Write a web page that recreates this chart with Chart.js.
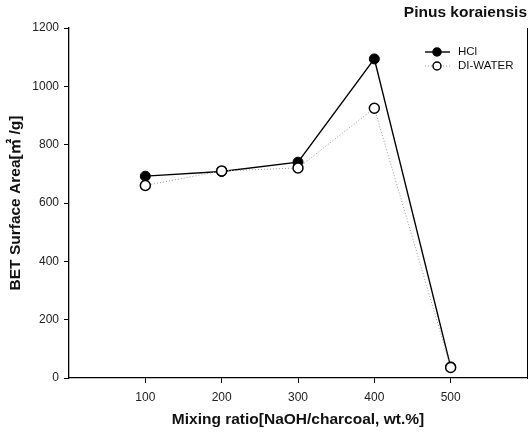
<!DOCTYPE html>
<html>
<head>
<meta charset="utf-8">
<script src="https://cdn.jsdelivr.net/npm/chart.js@4/dist/chart.umd.min.js"></script>
<style>
  html, body { margin: 0; padding: 0; background: #fff; }
  #wrap { width: 528px; height: 437px; }
</style>
</head>
<body>
<div id="wrap"><canvas id="chart" width="528" height="437"></canvas></div>
<script>
// データ
const mixingRatio = [100, 200, 300, 400, 500];
const hclArea = [692, 708, 740, 1094, 38];
const diWaterArea = [660, 710, 720, 925, 36];
const yTicks = [0, 200, 400, 600, 800, 1000, 1200];

const FONT = '"Liberation Sans", Arial, "Noto Sans CJK KR", sans-serif';

// 右上のタイトルと凡例を描く
const titleLegend = {
    id: 'titleLegend',
    afterDraw(chart) {
        const ctx = chart.ctx;
        const area = chart.chartArea;
        ctx.save();
        ctx.fillStyle = '#111';
        ctx.font = 'bold 15.5px ' + FONT;
        ctx.textAlign = 'right';
        ctx.textBaseline = 'middle';
        ctx.fillText('Pinus koraiensis', area.right, 13);

        const rows = [
            { ds: chart.data.datasets[0], y: 52 },
            { ds: chart.data.datasets[1], y: 66 }
        ];
        rows.forEach(r => {
            ctx.beginPath();
            ctx.setLineDash(r.ds.borderDash || []);
            ctx.strokeStyle = r.ds.borderColor;
            ctx.lineWidth = r.ds.borderWidth;
            ctx.moveTo(425, r.y);
            ctx.lineTo(450, r.y);
            ctx.stroke();
            ctx.setLineDash([]);
            ctx.beginPath();
            ctx.arc(437, r.y, 4, 0, Math.PI * 2);
            ctx.fillStyle = r.ds.pointBackgroundColor;
            ctx.fill();
            ctx.lineWidth = 1.5;
            ctx.strokeStyle = '#000';
            ctx.stroke();
            ctx.fillStyle = '#111';
            ctx.font = '11.5px ' + FONT;
            ctx.textAlign = 'left';
            ctx.fillText(r.ds.label, 458, r.y);
        });
        ctx.restore();
    }
};

new Chart(document.getElementById('chart'), {
    type: 'line',
    data: {
        datasets: [
            {
                label: 'HCl',
                data: mixingRatio.map((x, i) => ({ x: x, y: hclArea[i] })),
                borderColor: '#000',
                borderWidth: 1.4,
                pointRadius: 5,
                pointBackgroundColor: '#000',
                pointBorderColor: '#000',
                pointBorderWidth: 1,
                tension: 0,
                order: 1
            },
            {
                label: 'DI-WATER',
                data: mixingRatio.map((x, i) => ({ x: x, y: diWaterArea[i] })),
                borderColor: '#999',
                borderWidth: 1,
                borderDash: [1, 2],
                pointRadius: 5,
                pointBackgroundColor: '#fff',
                pointBorderColor: '#000',
                pointBorderWidth: 1.5,
                tension: 0,
                order: 0
            }
        ]
    },
    options: {
        responsive: false,
        animation: false,
        layout: { autoPadding: false, padding: { left: 0, right: 1, top: 28, bottom: 0 } },
        plugins: {
            legend: { display: false },
            title: { display: false },
            tooltip: { enabled: false }
        },
        scales: {
            x: {
                type: 'linear',
                min: 0,
                max: 600,
                afterFit(scale) {
                    scale.height = 59;
                    scale.paddingRight = 0;
                    scale.paddingLeft = 0;
                },
                afterBuildTicks(scale) {
                    scale.ticks = mixingRatio.map(v => ({ value: v }));
                },
                ticks: {
                    color: '#222',
                    font: { family: FONT, size: 12 },
                    padding: 7,
                    maxRotation: 0,
                    callback: v => String(v)
                },
                grid: { display: true, drawOnChartArea: false, drawTicks: true, tickLength: 5, color: '#000' },
                border: { display: true, color: '#000', width: 1.3 },
                title: {
                    display: true,
                    text: 'Mixing ratio[NaOH/charcoal, wt.%]',
                    color: '#111',
                    font: { family: FONT, size: 15.5, weight: 'bold' },
                    padding: { top: 0, bottom: 8 }
                }
            },
            y: {
                type: 'linear',
                min: 0,
                max: 1200,
                afterFit(scale) { scale.width = 69; },
                afterBuildTicks(scale) {
                    scale.ticks = yTicks.map(v => ({ value: v }));
                },
                ticks: {
                    color: '#222',
                    font: { family: FONT, size: 12 },
                    padding: 5,
                    callback: v => String(v)
                },
                grid: { display: true, drawOnChartArea: false, drawTicks: true, tickLength: 5, color: '#000' },
                border: { display: true, color: '#000', width: 1.3 },
                title: {
                    display: true,
                    text: 'BET Surface Area[㎡ /g]',
                    color: '#111',
                    font: { family: FONT, size: 15.5, weight: 'bold' },
                    padding: { top: 6, bottom: 0 }
                }
            },
            y2: {
                type: 'linear',
                position: 'right',
                min: 0,
                max: 1200,
                afterFit(scale) { scale.width = 0; },
                ticks: { display: false },
                grid: { display: false, drawTicks: false },
                border: { display: true, color: '#000', width: 1 }
            }
        }
    },
    plugins: [titleLegend]
});
</script>
</body>
</html>
